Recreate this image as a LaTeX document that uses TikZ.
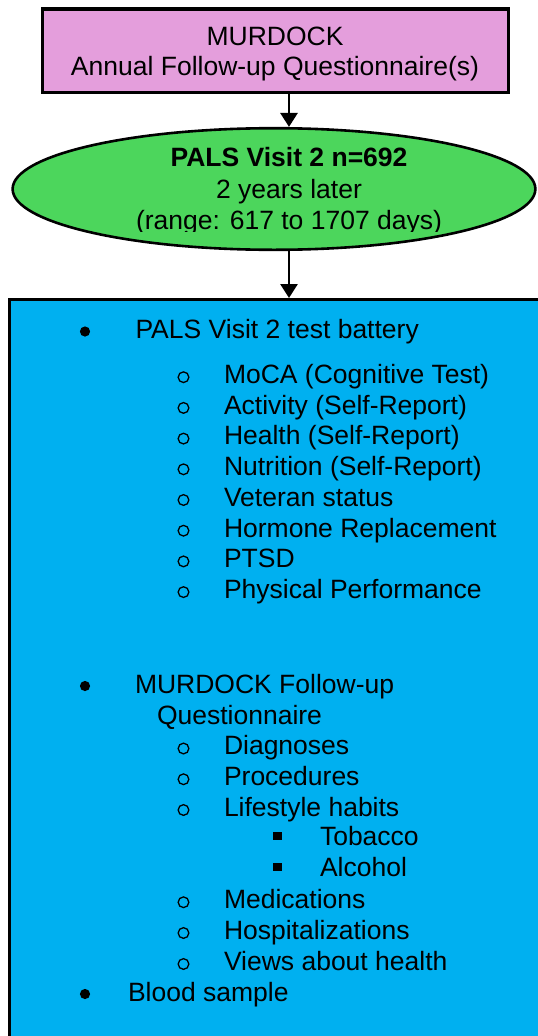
\documentclass[tikz,border=0pt]{standalone}
\usepackage{fontspec}
\setmainfont{Liberation Sans}
\usetikzlibrary{shapes.geometric,arrows.meta}
\definecolor{pinkfill}{RGB}{228,158,220}
\definecolor{greenfill}{RGB}{76,214,92}
\definecolor{bluefill}{RGB}{0,176,240}
\tikzset{
  txt/.style={inner sep=0pt, outer sep=0pt, anchor=base west, font=\fontsize{26.5}{30.7}\selectfont},
  ctxt/.style={txt, anchor=base},
  bul/.style={circle, fill=black, inner sep=0pt, outer sep=0pt, minimum size=10.2pt},
  subbul/.style={circle, draw=black, line width=1.3pt, inner sep=0pt, minimum size=10.7pt},
  sqbul/.style={rectangle, fill=black, inner sep=0pt, outer sep=0pt, minimum size=8.3pt},
  pinkbox/.style={draw, line width=3.3pt, fill=pinkfill, rectangle, inner sep=0pt, minimum width=466.6pt, minimum height=83.3pt},
  greenell/.style={draw, line width=2.6pt, fill=greenfill, ellipse, inner sep=0pt, minimum width=522.8pt, minimum height=121.6pt},
  bluebox/.style={draw, line width=3.4pt, fill=bluefill, rectangle, inner sep=0pt, minimum width=550pt, minimum height=760pt},
  arr/.style={line width=2.8pt, -{Triangle[width=17pt,length=14pt]}}
}
\begin{document}
\begin{tikzpicture}[x=1pt,y=-1pt]
\useasboundingbox (0,0) rectangle (538,1036);
\clip (0,0) rectangle (538,1036);
\fill[white] (0,0) rectangle (538,1036);

% top box
\node[pinkbox] (top) at (275.5,50.7) {};
\node[ctxt] (topA) at (275,45) {MURDOCK};
\node[ctxt] (topB) at (275,75) {Annual Follow-up Questionnaire(s)};

% ellipse
\node[greenell] (pals) at (274,189) {};
\node[ctxt] (palsA) at (289,166.7) {\bfseries PALS Visit 2 n=692};
\node[ctxt] (palsB) at (289,198.3) {2 years later};
\begin{scope}
\clip (0,0) rectangle (538,231);
\node[ctxt] (palsC) at (289,229.3) {(range: 617 to 1707 days)};
\end{scope}

% blue box
\node[bluebox] (blue) at (284.7,679.7) {};

% connectors
\coordinate (ax) at (289,0);
\draw[arr] (top.south -| ax) -- (pals.north -| ax);
\draw[arr] (pals.south -| ax) -- (blue.north -| ax);

% list level 1: PALS
\node[bul] (b1) at (85,331.5) {};
\node[txt] (t1) at (135.5,338.8) {PALS Visit 2 test battery};

\foreach \y/\t [count=\i] in {383.5/MoCA (Cognitive Test),414.2/Activity (Self-Report),444.9/Health (Self-Report),475.6/Nutrition (Self-Report),506.3/Veteran status,537/Hormone Replacement,567.7/PTSD,598.4/Physical Performance}{
  \node[subbul] (sb\i) at (183.5,\y-6.3) {};
  \node[txt] (st\i) at (224,\y) {\t};
}

% list level 1: MURDOCK
\node[bul] (b2) at (85,686) {};
\node[txt] (t2) at (135,693.3) {MURDOCK Follow-up};
\node[txt] (t2b) at (157,724.05) {Questionnaire};

\foreach \y/\t [count=\i] in {754.8/Diagnoses,785.55/Procedures,816.3/Lifestyle habits,908.55/Medications,939.3/Hospitalizations,970.3/Views about health}{
  \node[subbul] (mb\i) at (183.5,\y-6.3) {};
  \node[txt] (mt\i) at (224,\y) {\t};
}

\foreach \y/\t [count=\i] in {845.5/Tobacco,876.5/Alcohol}{
  \node[sqbul] (qb\i) at (277.5,\y-9.8) {};
  \node[txt] (qt\i) at (320,\y) {\t};
}

% list level 1: Blood
\node[bul] (b3) at (85,994) {};
\node[txt] (t3) at (128,1001.5) {Blood sample};
\end{tikzpicture}
\end{document}
